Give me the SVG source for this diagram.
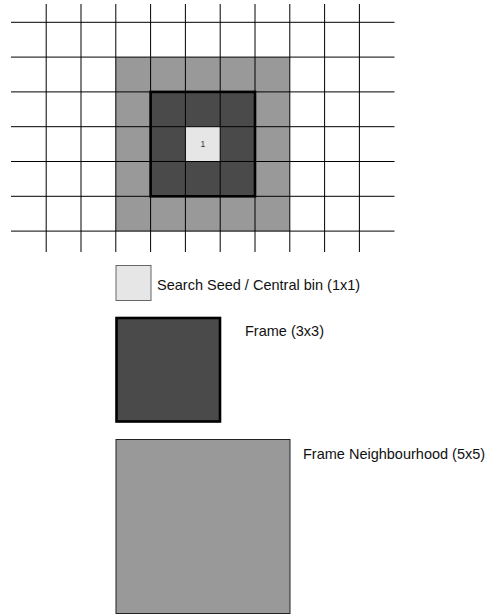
<svg xmlns="http://www.w3.org/2000/svg" width="486" height="614" viewBox="0 0 486 614">
<style>
.grid line{stroke:#000;stroke-width:1}
.lbl{font-family:"Liberation Sans",Arial,sans-serif;font-size:14.5px;fill:#111}
.seed{fill:#e6e6e6;stroke:#666;stroke-width:1}
.frame{fill:#4a4a4a;stroke:#000;stroke-width:2.6}
.nbhd{fill:#999;stroke:#222;stroke-width:1}
</style>
<rect width="486" height="614" fill="#fff"/>
<g id="grid-fills">
<rect x="115.8" y="57.1" width="174" height="174" fill="#999"/>
<rect x="150.6" y="91.9" width="104.4" height="104.4" fill="#4a4a4a"/>
<rect x="185.4" y="126.7" width="34.8" height="34.8" fill="#e6e6e6"/>
</g>
<g id="grid" class="grid">
<line x1="46.2" y1="4" x2="46.2" y2="252"/>
<line x1="81" y1="4" x2="81" y2="252"/>
<line x1="115.8" y1="4" x2="115.8" y2="252"/>
<line x1="150.6" y1="4" x2="150.6" y2="252"/>
<line x1="185.4" y1="4" x2="185.4" y2="252"/>
<line x1="220.2" y1="4" x2="220.2" y2="252"/>
<line x1="255" y1="4" x2="255" y2="252"/>
<line x1="289.8" y1="4" x2="289.8" y2="252"/>
<line x1="324.6" y1="4" x2="324.6" y2="252"/>
<line x1="359.4" y1="4" x2="359.4" y2="252"/>
<line x1="11" y1="22.3" x2="394.5" y2="22.3"/>
<line x1="11" y1="57.1" x2="394.5" y2="57.1"/>
<line x1="11" y1="91.9" x2="394.5" y2="91.9"/>
<line x1="11" y1="126.7" x2="394.5" y2="126.7"/>
<line x1="11" y1="161.5" x2="394.5" y2="161.5"/>
<line x1="11" y1="196.3" x2="394.5" y2="196.3"/>
<line x1="11" y1="231.1" x2="394.5" y2="231.1"/>
</g>
<g id="grid-frame">
<rect x="150.6" y="91.9" width="104.4" height="104.4" fill="none" stroke="#000" stroke-width="2.6"/>
<text x="202.8" y="146.7" font-family="Liberation Sans, Arial, sans-serif" font-size="8.5" fill="#333" text-anchor="middle">1</text>
</g>
<g id="legend-seed">
<rect class="seed" x="116" y="265.5" width="35" height="35"/>
<text class="lbl" x="157" y="290">Search Seed / Central bin (1x1)</text>
</g>
<g id="legend-frame">
<rect class="frame" x="116.5" y="318" width="103.5" height="103.5"/>
<text class="lbl" x="245" y="336">Frame (3x3)</text>
</g>
<g id="legend-neighbourhood">
<rect class="nbhd" x="116" y="439.5" width="174" height="174"/>
<text class="lbl" x="303" y="459">Frame Neighbourhood (5x5)</text>
</g>
<g id="connectors"/>
</svg>
